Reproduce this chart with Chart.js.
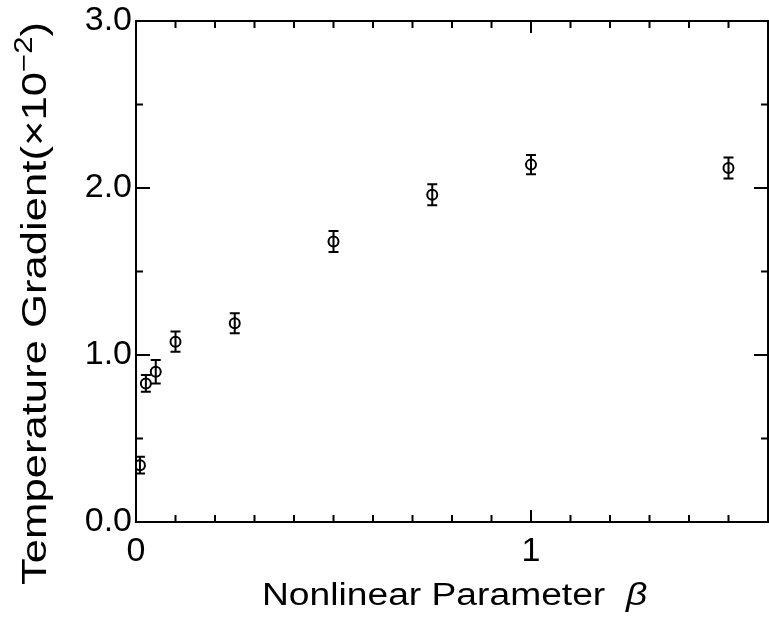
<!DOCTYPE html>
<html>
<head>
<meta charset="utf-8">
<script src="https://cdn.jsdelivr.net/npm/chart.js@4.4.0/dist/chart.umd.min.js"></script>
<style>
  html, body { margin: 0; padding: 0; background: #fff; overflow: hidden; }
  canvas { display: block; }
</style>
</head>
<body>
<canvas id="graphe" width="775" height="624"></canvas>
<script>
// === Données ===
const beta = [0.01, 0.025, 0.05, 0.1, 0.25, 0.5, 0.75, 1.0, 1.5];
const gradient = [0.34, 0.83, 0.90, 1.08, 1.19, 1.68, 1.96, 2.14, 2.12];
const erreur = [0.05, 0.05, 0.07, 0.06, 0.06, 0.063, 0.063, 0.057, 0.063];
const xMarques = [0, 1];          // graduations avec texte
const yMarques = [0, 1, 2, 3];
const titreX = "Nonlinear Parameter";
const titreY = "Temperature Gradient(\u00D710";

const police = '"Liberation Sans", Arial, sans-serif';
const estMarque = (v, liste) => liste.some(m => Math.abs(m - v) < 1e-6);

// === Cadre + graduations vers l'intérieur ===
const cadre = {
  id: "cadre",
  afterDraw(chart) {
    const { ctx, chartArea: a, scales: { x, y } } = chart;
    ctx.save();
    ctx.strokeStyle = "#000";
    ctx.lineWidth = 2;
    ctx.strokeRect(a.left, a.top, a.right - a.left, a.bottom - a.top);
    ctx.beginPath();
    x.ticks.forEach(t => {
      const px = x.getPixelForValue(t.value);
      const l = estMarque(t.value, xMarques) ? 12 : 7;
      ctx.moveTo(px, a.bottom); ctx.lineTo(px, a.bottom - l);
      ctx.moveTo(px, a.top); ctx.lineTo(px, a.top + l);
    });
    y.ticks.forEach(t => {
      const py = y.getPixelForValue(t.value);
      const l = estMarque(t.value, yMarques) ? 14 : 7;
      ctx.moveTo(a.left, py); ctx.lineTo(a.left + l, py);
      ctx.moveTo(a.right, py); ctx.lineTo(a.right - l, py);
    });
    ctx.stroke();
    ctx.restore();
  }
};

// === Barres d'erreur ===
const barres = {
  id: "barres",
  afterDatasetsDraw(chart) {
    const { ctx, scales: { x, y } } = chart;
    ctx.save();
    ctx.strokeStyle = "#000";
    ctx.lineWidth = 2;
    ctx.beginPath();
    beta.forEach((b, i) => {
      const px = x.getPixelForValue(b);
      const haut = y.getPixelForValue(gradient[i] + erreur[i]);
      const bas = y.getPixelForValue(gradient[i] - erreur[i]);
      ctx.moveTo(px, haut); ctx.lineTo(px, bas);
      ctx.moveTo(px - 5, haut); ctx.lineTo(px + 5, haut);
      ctx.moveTo(px - 5, bas); ctx.lineTo(px + 5, bas);
    });
    ctx.stroke();
    ctx.restore();
  }
};

// === Titres des axes ===
const titres = {
  id: "titres",
  afterDraw(chart) {
    const ctx = chart.ctx;
    ctx.save();
    ctx.fillStyle = "#000";
    ctx.textBaseline = "alphabetic";

    // axe X
    ctx.save();
    ctx.translate(262, 605);
    ctx.scale(1.2, 1);
    ctx.font = "31px " + police;
    ctx.fillText(titreX, 0, 0);
    const w = ctx.measureText(titreX + "  ").width;
    ctx.font = "italic 31px " + police;
    ctx.fillText("\u03B2", w, 0);
    ctx.restore();

    // axe Y
    ctx.save();
    ctx.translate(46, 585);
    ctx.rotate(-Math.PI / 2);
    ctx.font = "35px " + police;
    const w1 = ctx.measureText(titreY).width;
    ctx.font = "25px " + police;
    const w2 = ctx.measureText("\u22122").width;
    ctx.font = "35px " + police;
    const w3 = ctx.measureText(")").width;
    const s = 563 / (w1 + w2 + w3);
    ctx.scale(s, 1);
    ctx.fillText(titreY, 0, 0);
    ctx.font = "25px " + police;
    ctx.fillText("\u22122", w1, -14);
    ctx.font = "35px " + police;
    ctx.fillText(")", w1 + w2, 0);
    ctx.restore();

    ctx.restore();
  }
};

const ctx = document.getElementById("graphe").getContext("2d");
const chart = new Chart(ctx, {
  type: "scatter",
  data: {
    datasets: [{
      data: beta.map((b, i) => ({ x: b, y: gradient[i] })),
      pointStyle: "circle",
      pointRadius: 5,
      pointBorderWidth: 2,
      pointBorderColor: "#000",
      pointBackgroundColor: "#fff",
      showLine: false
    }]
  },
  options: {
    responsive: false,
    animation: false,
    devicePixelRatio: 1,
    layout: { padding: { top: 20, right: 4, left: 0, bottom: 0 } },
    plugins: { legend: { display: false }, tooltip: { enabled: false } },
    scales: {
      x: {
        type: "linear",
        min: 0,
        max: 1.6,
        grid: { display: false, drawTicks: false },
        border: { display: false },
        ticks: {
          stepSize: 0.1,
          autoSkip: false,
          maxRotation: 0,
          padding: 13,
          color: "#000",
          font: { family: police, size: 34, lineHeight: 1 },
          callback: v => estMarque(v, xMarques) ? String(Math.round(v)) : ""
        },
        afterFit: s => { s.height = 102; s.paddingLeft = 0; s.paddingRight = 0; }
      },
      y: {
        type: "linear",
        min: 0,
        max: 3,
        grid: { display: false, drawTicks: false },
        border: { display: false },
        ticks: {
          stepSize: 0.5,
          autoSkip: false,
          padding: 4,
          color: "#000",
          font: { family: police, size: 34, lineHeight: 1 },
          callback: v => estMarque(v, yMarques) ? v.toFixed(1) : ""
        },
        afterFit: s => { s.width = 136; }
      }
    }
  },
  plugins: [cadre, barres, titres]
});
</script>
</body>
</html>
